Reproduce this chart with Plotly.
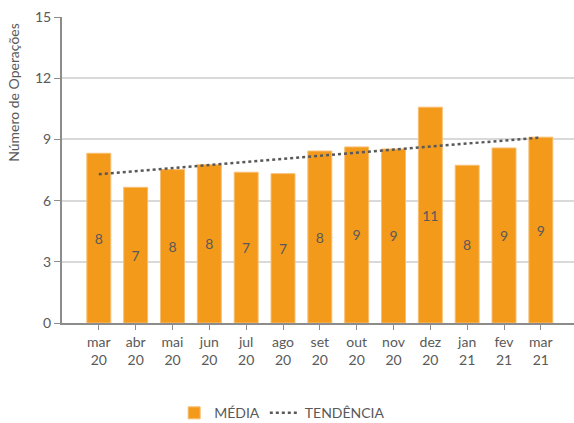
import numpy as np
import plotly.graph_objects as go

months = ["mar<br>20", "abr<br>20", "mai<br>20", "jun<br>20", "jul<br>20", "ago<br>20",
          "set<br>20", "out<br>20", "nov<br>20", "dez<br>20", "jan<br>21", "fev<br>21", "mar<br>21"]
media = [8.32, 6.65, 7.52, 7.76, 7.39, 7.32, 8.43, 8.63, 8.53, 10.58, 7.73, 8.58, 9.11]
labels = [str(int(round(v))) for v in media]

# linear trend line (least squares) of the monthly averages
xi = np.arange(len(media))
slope, intercept = np.polyfit(xi, media, 1)
trend = intercept + slope * xi

FONT = "Lato"
GRAY = "#595959"

fig = go.Figure()
fig.add_trace(go.Bar(
    x=xi, y=media, name="MÉDIA",
    marker=dict(color="#F39A1B", line=dict(color="#F7BE72", width=1)),
    text=labels, textposition="inside", insidetextanchor="middle",
    textfont=dict(size=14, color=GRAY, family=FONT),
))
fig.add_trace(go.Scatter(
    x=xi, y=trend, name="TENDÊNCIA", mode="lines",
    line=dict(color=GRAY, width=2.5, dash="dot"),
))

fig.add_annotation(
    text="Número de Operações", textangle=-90,
    xref="paper", yref="paper", x=-0.094, y=0.755,
    xanchor="center", yanchor="middle", showarrow=False,
    font=dict(size=14, color=GRAY, family=FONT),
)

fig.update_layout(
    width=574, height=423,
    margin=dict(l=62, r=0, t=17, b=100, autoexpand=False),
    paper_bgcolor="white", plot_bgcolor="white",
    font=dict(family=FONT, size=14, color=GRAY),
    bargap=0.35,
    showlegend=True,
    legend=dict(orientation="h", x=0.43, xanchor="center", y=-0.295, yanchor="middle",
                font=dict(size=14, color=GRAY, family=FONT), itemwidth=30),
    xaxis=dict(
        tickmode="array", tickvals=list(xi), ticktext=months,
        range=[-1.0, 12.9], automargin=False,
        showgrid=False, showline=True, linecolor="#8C8C8C", linewidth=2,
        ticks="outside", ticklen=5, tickcolor="#8C8C8C", tickwidth=1,
        tickfont=dict(size=14, color=GRAY, family=FONT),
        zeroline=False,
    ),
    yaxis=dict(
        range=[0, 15], tickvals=[0, 3, 6, 9, 12, 15], automargin=False,
        showgrid=True, gridcolor="#D9D9D9", gridwidth=2,
        showline=True, linecolor="#8C8C8C", linewidth=2,
        ticks="outside", ticklen=6, tickcolor="#8C8C8C", tickwidth=1,
        tickfont=dict(size=14, color=GRAY, family=FONT),
        zeroline=False,
    ),
)

fig.write_html(
    "out.html",
    config={"displayModeBar": False},
    post_script="document.body.style.margin='0';document.body.style.padding='0';document.body.style.overflow='hidden';",
)
